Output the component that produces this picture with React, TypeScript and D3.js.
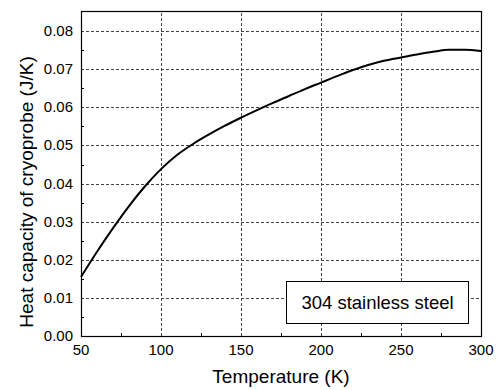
import { useEffect, useRef } from "react";
import * as d3 from "d3";

// Temperature (K) and heat capacity (J/K)
const temps = [50, 60, 70, 80, 90, 100, 110, 120, 130, 140, 150, 160, 170, 180, 190, 200, 210, 220, 230, 240, 250, 260, 270, 280, 290, 300];
const heatCap = [0.0155, 0.0221, 0.0283, 0.0341, 0.0393, 0.0438, 0.0475, 0.0504, 0.0529, 0.0552, 0.0573, 0.0593, 0.0612, 0.063, 0.0648, 0.0665, 0.0682, 0.0698, 0.0712, 0.0723, 0.0731, 0.0739, 0.0746, 0.0751, 0.0751, 0.0748];

const xTicks = [50, 100, 150, 200, 250, 300];
const yTicks = [0, 0.01, 0.02, 0.03, 0.04, 0.05, 0.06, 0.07, 0.08];
const xMinor = [75, 125, 175, 225, 275];
const yMinor = [0.005, 0.015, 0.025, 0.035, 0.045, 0.055, 0.065, 0.075];

const legendLabel = "304 stainless steel";
const xTitle = "Temperature (K)";
const yTitle = "Heat capacity of cryoprobe (J/K)";

const W = 503;
const H = 390;
const font = "Arial, 'Liberation Sans', sans-serif";

const App = () => {
  const svgRef = useRef<SVGSVGElement | null>(null);

  useEffect(() => {
    const svg = d3.select(svgRef.current);
    svg.selectAll("*").remove();

    const margin = { top: 11, right: 22, bottom: 54, left: 81 };
    const x = d3.scaleLinear().domain([50, 300]).range([margin.left, W - margin.right]);
    const y = d3.scaleLinear().domain([0, 0.0853]).range([H - margin.bottom, margin.top]);
    const [x0, x1] = x.range();
    const [y0, y1] = y.range();

    svg.append("rect").attr("width", W).attr("height", H).attr("fill", "#fff");

    // dotted grid
    const grid = svg.append("g").attr("stroke", "#444").attr("stroke-width", 1).attr("stroke-dasharray", "3,2");
    grid
      .selectAll(".vg")
      .data(xTicks.slice(1, -1))
      .enter()
      .append("line")
      .attr("x1", (d) => Math.round(x(d)) + 0.5)
      .attr("x2", (d) => Math.round(x(d)) + 0.5)
      .attr("y1", y0)
      .attr("y2", y1);
    grid
      .selectAll(".hg")
      .data(yTicks.slice(1))
      .enter()
      .append("line")
      .attr("x1", x0)
      .attr("x2", x1)
      .attr("y1", (d) => Math.round(y(d)) + 0.5)
      .attr("y2", (d) => Math.round(y(d)) + 0.5);

    // minor ticks, pointing inward
    const ticks = svg.append("g").attr("stroke", "#000").attr("stroke-width", 1);
    ticks
      .selectAll(".xm")
      .data(xMinor)
      .enter()
      .append("line")
      .attr("x1", (d) => Math.round(x(d)) + 0.5)
      .attr("x2", (d) => Math.round(x(d)) + 0.5)
      .attr("y1", y0)
      .attr("y2", y0 - 3);
    ticks
      .selectAll(".ym")
      .data(yMinor)
      .enter()
      .append("line")
      .attr("x1", x0)
      .attr("x2", x0 + 3)
      .attr("y1", (d) => Math.round(y(d)) + 0.5)
      .attr("y2", (d) => Math.round(y(d)) + 0.5);

    // frame
    svg
      .append("rect")
      .attr("x", x0 + 0.5)
      .attr("y", y1 + 0.5)
      .attr("width", x1 - x0)
      .attr("height", y0 - y1)
      .attr("fill", "none")
      .attr("stroke", "#000")
      .attr("stroke-width", 1.2);

    // curve
    const line = d3
      .line<number>()
      .x((_, i) => x(temps[i]))
      .y((d) => y(d))
      .curve(d3.curveMonotoneX);
    svg
      .append("path")
      .attr("d", line(heatCap))
      .attr("fill", "none")
      .attr("stroke", "#000")
      .attr("stroke-width", 2);

    // tick labels
    svg
      .selectAll(".xl")
      .data(xTicks)
      .enter()
      .append("text")
      .attr("x", (d) => x(d))
      .attr("y", 355)
      .attr("text-anchor", "middle")
      .attr("font-family", font)
      .attr("font-size", 15)
      .text((d) => d);
    svg
      .selectAll(".yl")
      .data(yTicks)
      .enter()
      .append("text")
      .attr("x", x0 - 8)
      .attr("y", (d) => y(d) + 5)
      .attr("text-anchor", "end")
      .attr("font-family", font)
      .attr("font-size", 15)
      .text((d) => d3.format(".2f")(d));

    // axis titles
    svg
      .append("text")
      .attr("x", 281)
      .attr("y", 383)
      .attr("text-anchor", "middle")
      .attr("font-family", font)
      .attr("font-size", 19)
      .text(xTitle);
    svg
      .append("text")
      .attr("transform", `translate(33, 192) rotate(-90)`)
      .attr("text-anchor", "middle")
      .attr("font-family", font)
      .attr("font-size", 19)
      .text(yTitle);

    // legend box
    const lg = svg.append("g");
    lg.append("rect")
      .attr("x", 286.5)
      .attr("y", 281.5)
      .attr("width", 182)
      .attr("height", 42)
      .attr("fill", "#fff")
      .attr("stroke", "#000")
      .attr("stroke-width", 1);
    lg.append("text")
      .attr("x", 377.5)
      .attr("y", 309)
      .attr("text-anchor", "middle")
      .attr("font-family", font)
      .attr("font-size", 18.5)
      .text(legendLabel);
  }, []);

  return (
    <svg
      ref={svgRef}
      width={W}
      height={H}
      style={{ position: "absolute", left: 0, top: 0, display: "block" }}
    ></svg>
  );
};

export default App;
